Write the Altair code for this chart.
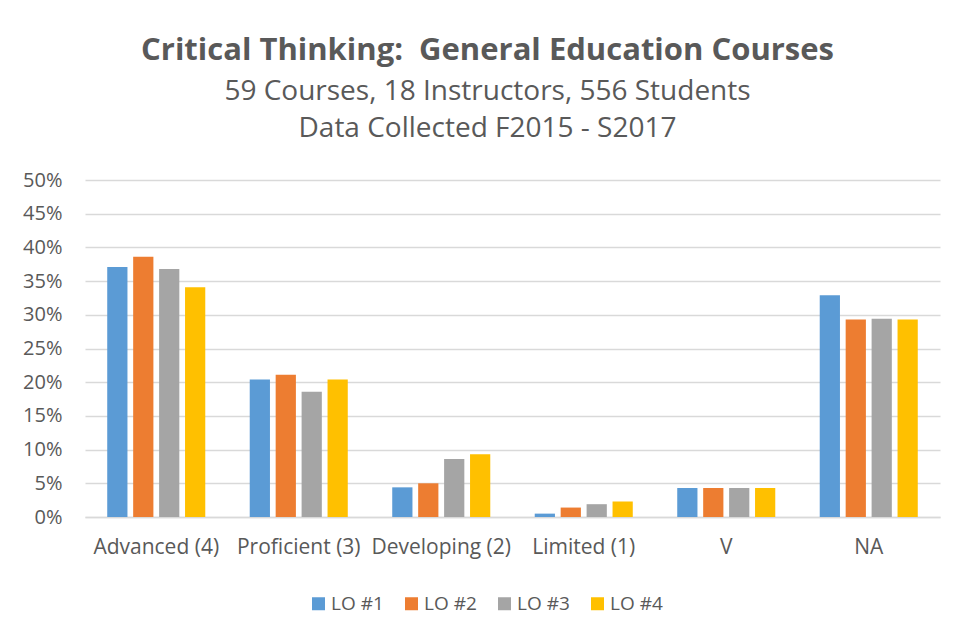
import altair as alt
import pandas as pd

categories = ["Advanced (4)", "Proficient (3)", "Developing (2)", "Limited (1)", "V", "NA"]
series = ["LO #1", "LO #2", "LO #3", "LO #4"]
lo1 = [37.1, 20.4, 4.4, 0.5, 4.3, 32.9]
lo2 = [38.6, 21.1, 5.0, 1.4, 4.3, 29.3]
lo3 = [36.8, 18.6, 8.6, 1.9, 4.3, 29.4]
lo4 = [34.1, 20.4, 9.3, 2.3, 4.3, 29.3]
colors = ["#5B9BD5", "#ED7D31", "#A5A5A5", "#FFC000"]
y_ticks = [0, 0.05, 0.10, 0.15, 0.20, 0.25, 0.30, 0.35, 0.40, 0.45, 0.50]

rows = []
for s, vals in zip(series, [lo1, lo2, lo3, lo4]):
    for c, v in zip(categories, vals):
        rows.append({"category": c, "series": s, "value": v / 100})
df = pd.DataFrame(rows)

FONT = "Open Sans"
TXT = "#595959"
GRID = "#D9D9D9"

chart = alt.Chart(df).mark_bar().encode(
    x=alt.X("category:N", sort=categories,
            scale=alt.Scale(paddingInner=0.312, paddingOuter=0.156),
            axis=alt.Axis(title=None, labelAngle=0, labelFontSize=21, labelColor=TXT,
                          labelFont=FONT, labelPadding=19, domainColor=GRID, domainWidth=1.5,
                          ticks=False)),
    xOffset=alt.XOffset("series:N", sort=series,
                        scale=alt.Scale(paddingInner=0.22, paddingOuter=0)),
    y=alt.Y("value:Q", scale=alt.Scale(domain=[0, 0.5]),
            axis=alt.Axis(title=None, format=".0%", values=y_ticks, labelFontSize=20,
                          labelColor=TXT, labelFont=FONT, labelPadding=23, domain=False,
                          ticks=False, gridColor=GRID, gridWidth=1.5)),
    color=alt.Color("series:N", sort=series,
                    scale=alt.Scale(domain=series, range=colors),
                    legend=alt.Legend(title=None, orient="none", direction="horizontal",
                                      legendX=224, legendY=414, symbolType="square",
                                      symbolSize=169, labelFontSize=19, labelColor=TXT,
                                      labelFont=FONT, columnPadding=18, labelOffset=3,
                                      symbolStrokeWidth=0)),
).properties(
    width=855, height=337,
    autosize=alt.AutoSizeParams(type="none"),
    padding={"left": 77, "top": 172, "right": 17, "bottom": 115},
    title=alt.Title(
        "Critical Thinking: \u00a0General Education Courses",
        subtitle=["59 Courses, 18 Instructors, 556 Students", "Data Collected F2015 - S2017"],
        anchor="middle", dx=-25, offset=26,
        font=FONT, fontSize=31, fontWeight="bold", color=TXT,
        subtitleFont=FONT, subtitleFontSize=28, subtitleColor=TXT,
        subtitleLineHeight=37, subtitlePadding=11,
    ),
).configure_view(stroke=None)

chart.save("out.html", embed_options={"renderer": "svg", "actions": False})
